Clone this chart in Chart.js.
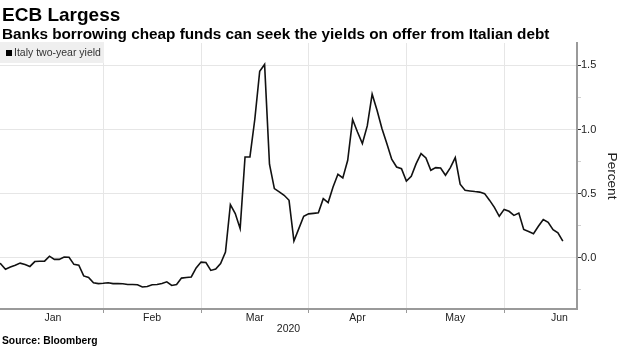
<!DOCTYPE html>
<html>
<head>
<meta charset="utf-8">
<title>ECB Largess</title>
<script src="https://cdn.jsdelivr.net/npm/chart.js@4/dist/chart.umd.min.js"></script>
<style>
html,body{margin:0;padding:0;background:#fff;}
body{width:620px;height:348px;position:relative;overflow:hidden;font-family:'Liberation Sans',Arial,sans-serif;}
#c{position:absolute;left:0;top:0;}
.t{position:absolute;left:2px;white-space:nowrap;color:#000;font-weight:bold;line-height:1;}
#title{top:5px;font-size:19px;}
#sub{top:26px;font-size:15.3px;}
#src{top:336px;font-size:10.3px;}
#legend{position:absolute;left:0;top:42px;width:104px;height:21px;background:#efefef;}
#legend .sw{position:absolute;left:6px;top:8px;width:6px;height:6px;background:#000;}
#legend .lb{position:absolute;left:14px;top:5px;font-size:10.5px;line-height:11px;color:#333;white-space:nowrap;}
</style>
</head>
<body>
<canvas id="c" width="620" height="348"></canvas>
<div class="t" id="title">ECB Largess</div>
<div class="t" id="sub">Banks borrowing cheap funds can seek the yields on offer from Italian debt</div>
<div id="legend"><div class="sw"></div><div class="lb">Italy two-year yield</div></div>
<div class="t" id="src">Source: Bloomberg</div>
<script>
// Italy two-year yield, one value per trading day (index 0 = 2 Jan 2020)
const seriesName = 'Italy two-year yield';
const yieldValues = [
  -0.040, -0.047, -0.090, -0.072, -0.058, -0.042, -0.052, -0.068, -0.030, -0.028,
  -0.027,  0.012, -0.013, -0.013,  0.006,  0.004, -0.052, -0.059, -0.142, -0.154,
  -0.195, -0.202, -0.199, -0.195, -0.202, -0.202, -0.203, -0.209, -0.209, -0.211,
  -0.228, -0.224, -0.211, -0.209, -0.201, -0.188, -0.216, -0.209, -0.159, -0.154,
  -0.150, -0.080, -0.034, -0.037, -0.099, -0.089, -0.045,  0.044,  0.414,  0.344,
   0.227,  0.786,  0.786,  1.080,  1.455,  1.508,  0.729,  0.539,  0.513,  0.487,
   0.448,  0.130,  0.227,  0.323,  0.342,  0.346,  0.350,  0.461,  0.430,  0.552,
   0.651,  0.622,  0.760,  1.078,  0.981,  0.891,  1.028,  1.276,  1.151,  1.008,
   0.891,  0.768,  0.708,  0.695,  0.598,  0.635,  0.734,  0.812,  0.778,  0.682,
   0.703,  0.700,  0.643,  0.703,  0.781,  0.573,  0.526,  0.521,  0.516,  0.512,
   0.500,  0.449,  0.393,  0.323,  0.377,  0.362,  0.330,  0.348,  0.221,  0.205,
   0.188,  0.245,  0.297,  0.276,  0.219,  0.195,  0.130
];
// month boundaries (trading-day index of first session) and month label positions
const monthStartIdx = [22, 42, 64, 84, 104];
const monthNames = ['Jan', 'Feb', 'Mar', 'Apr', 'May', 'Jun'];
const monthLabelIdx = [11.7, 32, 53, 74, 94, 115.3];
const yearLabel = '2020';
const yTickValues = [-0.25, 0, 0.25, 0.5, 0.75, 1.0, 1.25, 1.5];
const xRange = [0.88, 118.9];
const yRange = [-0.4, 1.675];

Chart.defaults.font.family = "'Liberation Sans', Arial, sans-serif";

const points = yieldValues.map((v, i) => ({x: i, y: v}));
const isMajorY = v => Math.abs(v * 2 - Math.round(v * 2)) < 1e-9;
const isMonthStart = v => monthStartIdx.includes(v);

new Chart(document.getElementById('c'), {
  type: 'line',
  data: {
    datasets: [{
      label: seriesName,
      data: points,
      borderColor: '#111',
      borderWidth: 1.6,
      pointRadius: 0,
      tension: 0,
      fill: false
    }]
  },
  options: {
    responsive: false,
    animation: false,
    devicePixelRatio: 1,
    layout: {padding: {top: 43, left: 0, right: 0, bottom: 13}},
    plugins: {legend: {display: false}, tooltip: {enabled: false}},
    scales: {
      x: {
        type: 'linear',
        position: 'bottom',
        min: xRange[0],
        max: xRange[1],
        afterBuildTicks: axis => {
          const t = monthStartIdx.map(v => ({value: v}))
            .concat(monthLabelIdx.map(v => ({value: v})));
          t.sort((a, b) => a.value - b.value);
          axis.ticks = t;
        },
        afterFit: scale => { scale.height = 26; },
        border: {color: '#9a9a9a', width: 2},
        grid: {
          color: ctx => (ctx.tick && isMonthStart(ctx.tick.value)) ? '#e6e6e6' : 'rgba(0,0,0,0)',
          tickColor: ctx => (ctx.tick && isMonthStart(ctx.tick.value)) ? '#9a9a9a' : 'rgba(0,0,0,0)',
          tickLength: 4,
          lineWidth: 1
        },
        ticks: {
          autoSkip: false,
          maxRotation: 0,
          padding: -1,
          color: '#222',
          font: {size: 10.5},
          callback: v => {
            const k = monthLabelIdx.indexOf(v);
            return k >= 0 ? monthNames[k] : '';
          }
        },
        title: {display: true, text: yearLabel, color: '#222', font: {size: 10.5}, padding: 0}
      },
      y: {
        type: 'linear',
        position: 'right',
        min: yRange[0],
        max: yRange[1],
        afterBuildTicks: axis => { axis.ticks = yTickValues.map(v => ({value: v})); },
        afterFit: scale => { scale.width = 43; },
        border: {color: '#9a9a9a', width: 2},
        grid: {
          color: ctx => (ctx.tick && isMajorY(ctx.tick.value)) ? '#e6e6e6' : 'rgba(0,0,0,0)',
          tickColor: ctx => (ctx.tick && isMajorY(ctx.tick.value)) ? '#333' : '#d0d0d0',
          tickLength: 4,
          lineWidth: 1
        },
        ticks: {
          padding: 0,
          color: '#222',
          font: {size: 11},
          callback: v => isMajorY(v) ? v.toFixed(1) : ''
        },
        title: {display: true, text: 'Percent', color: '#222', font: {size: 13.6}, padding: 0}
      }
    }
  }
});
</script>
</body>
</html>
